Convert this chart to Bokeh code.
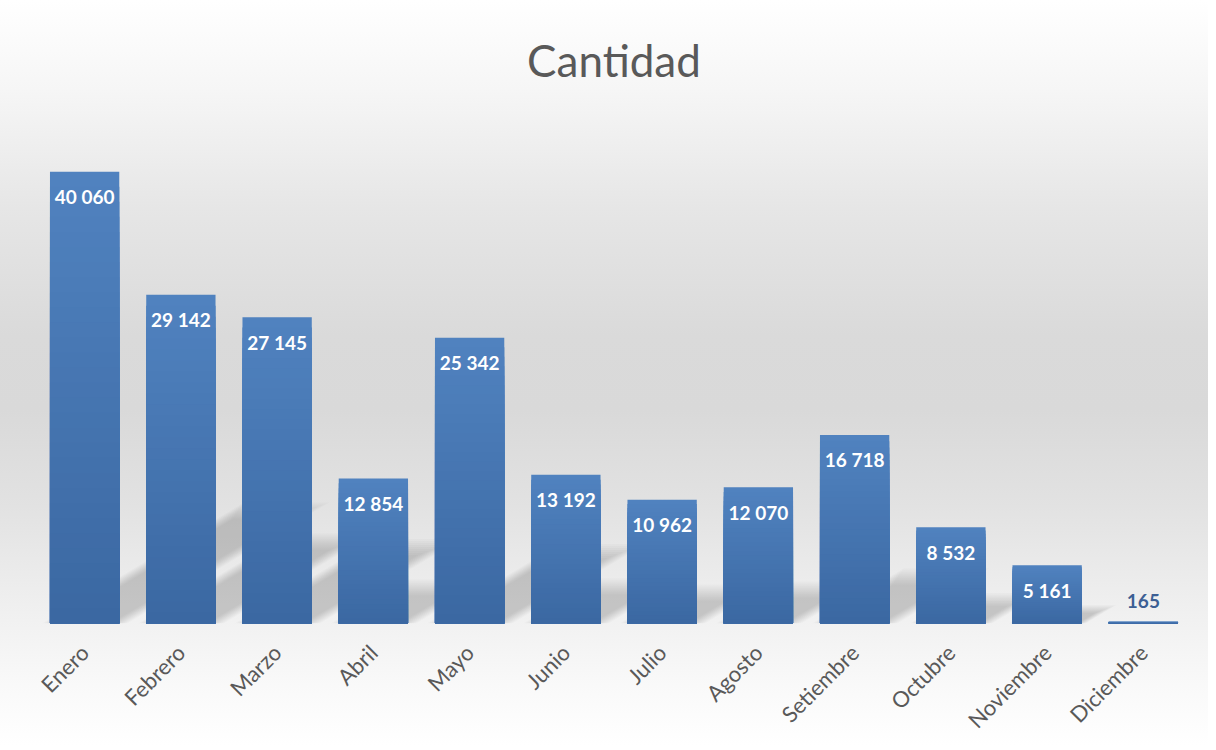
from bokeh.plotting import figure
from bokeh.models import Range1d, FixedTicker, ColumnDataSource
from bokeh.core.properties import value
from bokeh.embed import file_html
from bokeh.resources import INLINE

# ---------------- data ----------------
months = ["Enero", "Febrero", "Marzo", "Abril", "Mayo", "Junio", "Julio",
          "Agosto", "Setiembre", "Octubre", "Noviembre", "Diciembre"]
cantidad = [40060, 29142, 27145, 12854, 25342, 13192, 10962, 12070,
            16718, 8532, 5161, 165]
title_text = "Cantidad"

# ---------------- layout ----------------
B_LEFT, B_RIGHT, B_TOP, B_BOTTOM = 36, 17, 116, 100
frame_w = 1155
frame_h = 507
Y_MAX = 44950
BAR_W = 0.72
px_per_unit = frame_h / Y_MAX
pitch_px = frame_w / len(months)

xs = list(range(len(months)))

p = figure(frame_width=frame_w, frame_height=frame_h,
           x_range=Range1d(-0.5, len(months) - 0.5),
           y_range=Range1d(0, Y_MAX),
           y_axis_location=None,
           output_backend="svg", toolbar_location=None,
           min_border_left=B_LEFT, min_border_right=B_RIGHT,
           min_border_top=B_TOP, min_border_bottom=B_BOTTOM,
           background_fill_alpha=0, border_fill_alpha=0,
           outline_line_color=None,
           styles={"background": "linear-gradient(to bottom, #ffffff 0%, #f6f6f6 12%, "
                                 "#e6e6e6 28%, #dadada 45%, #d9d9d9 55%, #e2e2e2 68%, "
                                 "#eeeeee 80%, #f9f9f9 92%, #ffffff 100%)"})

p.grid.visible = False

# title
p.title.text = title_text
p.title.align = "center"
p.title.text_font = "Lato"
p.title.text_font_size = "44px"
p.title.text_font_style = "normal"
p.title.text_color = "#595959"
p.title.standoff = 61

# x axis
ax = p.xaxis[0]
ax.ticker = FixedTicker(ticks=xs)
ax.major_label_overrides = {i: m for i, m in enumerate(months)}
ax.major_label_orientation = 0.785398
ax.major_label_text_font = "Lato"
ax.major_label_text_font_size = "22px"
ax.major_label_text_color = "#595959"
ax.major_label_standoff = 19
ax.axis_line_color = None
ax.major_tick_line_color = None
ax.minor_tick_line_color = None

# ---------------- soft perspective shadows (upper right) ----------------
SH_H = 0.25        # shadow height relative to bar height
SH_SHEAR = 1.67    # horizontal px per vertical px
blur_steps = [-8, -6, -4, -2, 0, 2, 4, 6, 8]
for d in blur_steps:
    sx, sy = [], []
    for i, v in enumerate(cantidad):
        h_px = v * px_per_unit * SH_H
        dd = d * min(1.0, h_px / 30.0)
        xl_px = (i - BAR_W / 2) * pitch_px
        xr_px = (i + BAR_W / 2) * pitch_px
        top = max(h_px + dd, 0.0)
        sh_t = top * SH_SHEAR
        pts_x = [xl_px - dd, xr_px + dd, xr_px + sh_t + dd, xl_px + sh_t - dd]
        pts_y = [0, 0, top, top]
        sx.append([q / pitch_px for q in pts_x])
        sy.append([q / px_per_unit for q in pts_y])
    p.patches(sx, sy, fill_color="#000000", fill_alpha=0.02, line_color=None)

# ---------------- bars with vertical gradient ----------------
N = 30
top_rgb = (0x50, 0x82, 0xbf)
bot_rgb = (0x3b, 0x68, 0xa2)
for k in range(N):
    t = k / (N - 1)
    c = tuple(int(round(a + (b - a) * t)) for a, b in zip(top_rgb, bot_rgb))
    col = "#%02x%02x%02x" % c
    frac = (N - k) / N
    p.vbar(x=xs, top=[v * frac for v in cantidad], bottom=0, width=BAR_W,
           fill_color=col, line_color=None)

# ---------------- data labels ----------------
def fmt(v):
    return f"{v:,}".replace(",", " ")

inside = [v * px_per_unit > 40 for v in cantidad]
src_in = ColumnDataSource(dict(
    x=[i for i, ok in zip(xs, inside) if ok],
    y=[v for v, ok in zip(cantidad, inside) if ok],
    t=[fmt(v) for v, ok in zip(cantidad, inside) if ok]))
src_out = ColumnDataSource(dict(
    x=[i for i, ok in zip(xs, inside) if not ok],
    y=[v for v, ok in zip(cantidad, inside) if not ok],
    t=[fmt(v) for v, ok in zip(cantidad, inside) if not ok]))

p.text(x="x", y="y", text="t", source=src_in, y_offset=25,
       text_align="center", text_baseline="middle",
       text_font=value("Lato"), text_font_style="bold", text_font_size="19px",
       text_color="#ffffff")
p.text(x="x", y="y", text="t", source=src_out, y_offset=-21,
       text_align="center", text_baseline="middle",
       text_font=value("Lato"), text_font_style="bold", text_font_size="19px",
       text_color="#3c5f94")

open("out.html", "w").write(file_html(p, INLINE))
